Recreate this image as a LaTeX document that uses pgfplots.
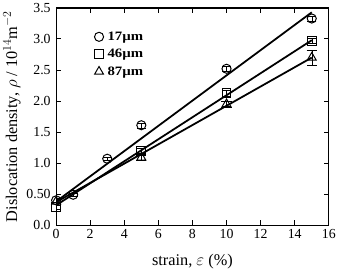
\documentclass[border=0pt]{standalone}
\usepackage{pgfplots}
\pgfplotsset{compat=1.18}
\usepackage{fontspec}
\setmainfont{Liberation Serif}
\newfontfamily\legendfont[FakeStretch=1.15]{Liberation Serif}
\begin{document}
\begin{tikzpicture}
\begin{axis}[
  scale only axis,
  width=275bp, height=219bp,
  xmin=0, xmax=16, ymin=0, ymax=3.5,
  xtick={0,2,...,16},
  ytick={0,0.5,1,1.5,2,2.5,3,3.5},
  yticklabels={0.0,0.50,1.0,1.5,2.0,2.5,3.0,3.5},
  /pgf/number format/assume math mode=true,
  tick align=inside,
  major tick length=5bp,
  axis line style={line width=1.2pt},
  tick style={line width=1pt, black},
  tick label style={font=\fontsize{14}{16}\selectfont},
  xticklabel style={yshift=-1bp},
  yticklabel style={xshift=-2bp},
  xlabel={strain, $\varepsilon$ (\%)},
  ylabel={Dislocation density, $\rho$ / 10$^{14}$m$^{-2}$},
  label style={font=\fontsize{16.5}{18}\selectfont},
  xlabel style={yshift=-9bp},
  ylabel style={yshift=-1bp},
  legend style={draw=none, fill=none, at={(0.14,0.90)}, anchor=north west,
    font=\legendfont\bfseries\fontsize{13}{14}\selectfont, row sep=3.5bp,
    inner sep=0pt},
  legend cell align=left,
  legend image code/.code={\draw[#1] plot coordinates {(0.15cm,0cm)};},
]
% measured points
\addplot[only marks, mark=o, mark size=4.6bp, line width=1pt,
  error bars/.cd, y dir=both, y explicit]
  coordinates {(0,0.40) +- (0,0.04) (1,0.49) +- (0,0.02) (3,1.07) +- (0,0.02)
               (5,1.61) +- (0,0.04) (10,2.52) +- (0,0.04) (15,3.33) +- (0,0.04)};
\addlegendentry{\hspace{2bp}17\textmu m}
\addplot[only marks, mark=square, mark size=4.4bp, line width=1pt,
  error bars/.cd, y dir=both, y explicit]
  coordinates {(0,0.29) +- (0,0.03) (5,1.20) +- (0,0.04) (10,2.13) +- (0,0.05)
               (15,2.97) +- (0,0.04)};
\addlegendentry{\hspace{2bp}46\textmu m}
\addplot[only marks, mark=triangle, mark size=5.2bp, line width=1pt,
  error bars/.cd, y dir=both, y explicit]
  coordinates {(0,0.38) +- (0,0.03) (5,1.09) +- (0,0.05) (10,1.95) +- (0,0.05)
               (15,2.70) +- (0,0.12)};
\addlegendentry{\hspace{2bp}87\textmu m}
% linear fits
\addplot[line width=1.8pt, forget plot] coordinates {(0,0.38) (15,3.43)};
\addplot[line width=1.8pt, forget plot] coordinates {(0,0.32) (15,2.98)};
\addplot[line width=1.8pt, forget plot] coordinates {(0,0.37) (15,2.70)};
\end{axis}
\end{tikzpicture}
\end{document}
